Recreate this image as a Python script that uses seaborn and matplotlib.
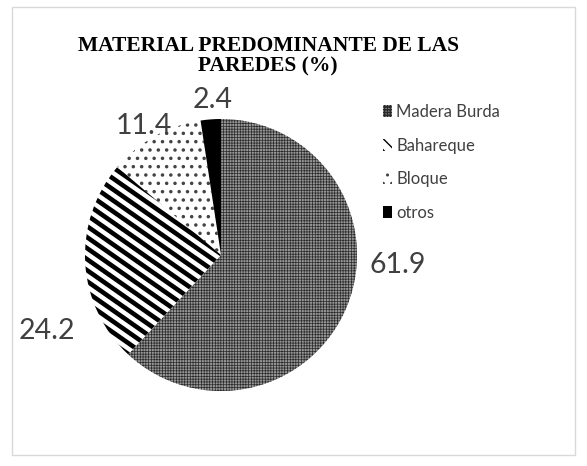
import matplotlib
matplotlib.use("Agg")
import matplotlib.pyplot as plt
import seaborn as sns
import numpy as np
from matplotlib.patches import Rectangle, Patch

categories = ["Madera Burda", "Bahareque", "Bloque", "otros"]
values = [61.9, 24.2, 11.4, 2.4]
value_labels = ["61.9", "24.2", "11.4", "2.4"]
title = "MATERIAL PREDOMINANTE DE LAS\nPAREDES (%)"

sns.set_theme(style="white")
plt.rcParams['font.family'] = ['Lato', 'DejaVu Sans']

W, H = 587, 466
fig = plt.figure(figsize=(W / 100, H / 100), dpi=100)
cx, cy, r = 221, 255, 136
ax = fig.add_axes([(cx - r) / W, (H - cy - r) / H, 2 * r / W, 2 * r / H])

faces = ["#969696", "white", "white", "black"]
edges = ["#2a2a2a", "white", "#444444", "black"]
hatches = ["++++++", None, "..", None]
hlw = [0.5, 1.0, 1.3, 1.0]

wedges, _ = ax.pie(values, startangle=90, counterclock=False, radius=1,
                   wedgeprops=dict(linewidth=0))
for w, h, fc, ec, lw in zip(wedges, hatches, faces, edges, hlw):
    w.set_facecolor(fc)
    w.set_edgecolor(ec)
    if h:
        w.set_hatch(h)
    if hasattr(w, "set_hatch_linewidth"):
        w.set_hatch_linewidth(lw)

# diagonal stripe texture for "Bahareque", clipped to its wedge
stripe_wedge = wedges[1]
period = 11 / r
slope = -0.70
xs = np.array([-1.1, 1.1])
for b in np.arange(-2.5, 2.5, period):
    ln, = ax.plot(xs, slope * xs + b, color="black", lw=3.3,
                  solid_capstyle="butt")
    ln.set_clip_path(stripe_wedge)

ax.set_xlim(-1, 1)
ax.set_ylim(-1, 1)
ax.set_aspect("equal")
ax.axis("off")

label_pos = [(1.30, -0.07), (-1.28, -0.56), (-0.57, 0.95), (-0.06, 1.14)]
for (x, y), t in zip(label_pos, value_labels):
    ax.text(x, y, t, ha="center", va="center", fontsize=20.5, color="#404040")

fig.text(268 / W, 1 - 56 / H, title, ha="center", va="center",
         fontsize=15.5, fontweight="bold", family="Liberation Serif",
         color="black", linespacing=1.0)

handles = [
    Patch(facecolor=faces[0], edgecolor=edges[0], hatch="++++++", linewidth=0),
    Patch(facecolor="white", edgecolor="black", hatch="\\\\\\", linewidth=0),
    Patch(facecolor="white", edgecolor="#444444", hatch="..", linewidth=0),
    Patch(facecolor="black", edgecolor="black", linewidth=0),
]
leg = fig.legend(handles, categories, loc="upper left",
                 bbox_to_anchor=(368 / W, 1 - 89 / H), frameon=False,
                 fontsize=12, labelcolor="#404040", handlelength=0.55,
                 handleheight=0.7, handletextpad=0.25, labelspacing=1.05)

fig.patches.append(Rectangle((12 / W, 1 - 455 / H), 563 / W, 448 / H,
                             transform=fig.transFigure, fill=False,
                             edgecolor="#d9d9d9", linewidth=1))

fig.savefig("out.png", dpi=100)
